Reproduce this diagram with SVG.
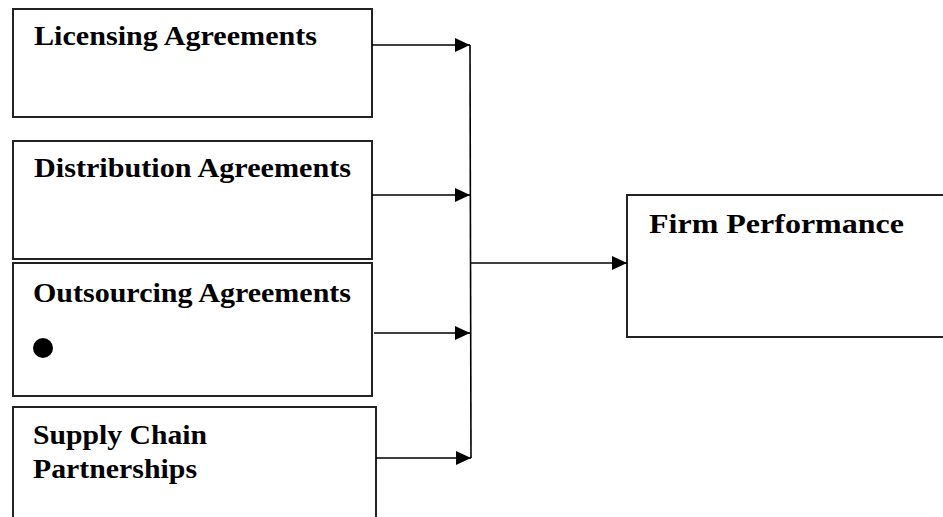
<svg xmlns="http://www.w3.org/2000/svg" width="943" height="517" viewBox="0 0 943 517">
<style>
.box{fill:#fff;stroke:#222;stroke-width:2}
.lbl{font-family:"Liberation Serif","Times New Roman",serif;font-weight:bold;font-size:28px;fill:#000}
.con{stroke:#000;stroke-width:1.6;fill:none}
</style>
<defs>
<marker id="ah" markerUnits="userSpaceOnUse" markerWidth="16" markerHeight="14" refX="15" refY="7" orient="auto">
<path d="M0,0 L15,7 L0,14 Z" fill="#000"/>
</marker>
</defs>
<rect width="943" height="517" fill="#fff"/>
<g id="licensing">
<rect class="box" x="13" y="9" width="359" height="108"/>
<text class="lbl" x="34" y="45" textLength="283" lengthAdjust="spacingAndGlyphs">Licensing Agreements</text>
</g>
<g id="distribution">
<rect class="box" x="13" y="141" width="359" height="118"/>
<text class="lbl" x="34" y="177" textLength="317" lengthAdjust="spacingAndGlyphs">Distribution Agreements</text>
</g>
<g id="outsourcing">
<rect class="box" x="13" y="263" width="359" height="133"/>
<text class="lbl" x="33" y="302" textLength="318" lengthAdjust="spacingAndGlyphs">Outsourcing Agreements</text>
<circle cx="43" cy="348" r="10" fill="#000"/>
</g>
<g id="supply">
<rect class="box" x="13" y="407" width="363" height="120"/>
<text class="lbl" x="33" y="444" textLength="174" lengthAdjust="spacingAndGlyphs">Supply Chain</text>
<text class="lbl" x="33" y="478" textLength="164" lengthAdjust="spacingAndGlyphs">Partnerships</text>
</g>
<g id="firm">
<rect class="box" x="627" y="195" width="330" height="142"/>
<text class="lbl" x="649" y="233" textLength="255" lengthAdjust="spacingAndGlyphs">Firm Performance</text>
</g>
<g id="connectors">
<line class="con" x1="372" y1="45" x2="470" y2="45" marker-end="url(#ah)"/>
<line class="con" x1="372" y1="195" x2="470" y2="195" marker-end="url(#ah)"/>
<line class="con" x1="374" y1="333" x2="470" y2="333" marker-end="url(#ah)"/>
<line class="con" x1="376" y1="458" x2="471" y2="458" marker-end="url(#ah)"/>
<line class="con" x1="470" y1="45" x2="471" y2="458"/>
<line class="con" x1="471" y1="263" x2="627" y2="263" marker-end="url(#ah)"/>
</g>
</svg>
